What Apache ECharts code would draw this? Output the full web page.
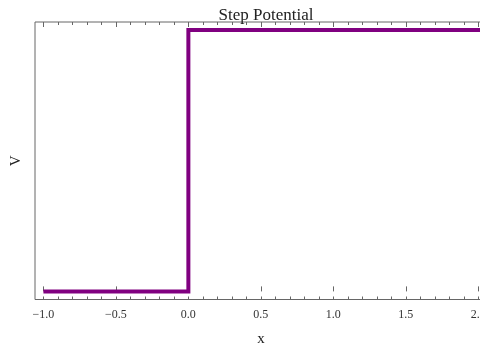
<!DOCTYPE html>
<html>
<head>
<meta charset="utf-8">
<script src="https://cdn.jsdelivr.net/npm/echarts@6/dist/echarts.min.js"></script>
<style>
  html, body { margin: 0; padding: 0; background: #fff; }
  #chart { width: 480px; height: 347px; }
</style>
</head>
<body>
<div id="chart"></div>
<script>
// step potential: V = 0 for x < 0, V = V0 for x > 0
const xs = [-1, 0, 0, 2.06]
const vs = [0, 0, 1, 1]
const majorTicks = [-1, -0.5, 0, 0.5, 1, 1.5, 2]
const minorTicks = [-1, -0.9, -0.8, -0.7, -0.6, -0.5, -0.4, -0.3, -0.2, -0.1, 0, 0.1, 0.2, 0.3, 0.4, 0.5,
  0.6, 0.7, 0.8, 0.9, 1, 1.1, 1.2, 1.3, 1.4, 1.5, 1.6, 1.7, 1.8, 1.9, 2]
const tickLabels = ['\u22121.0', '\u22120.5', '0.0', '0.5', '1.0', '1.5', '2.0']

const serif = '"Liberation Serif", "DejaVu Serif", serif'
const frameColor = '#666'
const xMin = -1.058
const xMax = 2.06

function xAxisDef(pos, ticks, len, withLabels) {
  return {
    type: 'value',
    position: pos,
    min: xMin,
    max: xMax,
    axisLine: { show: false },
    splitLine: { show: false },
    axisTick: {
      show: true,
      inside: true,
      length: len,
      customValues: ticks,
      lineStyle: { color: frameColor, width: 1 }
    },
    axisLabel: withLabels
      ? {
          show: true,
          customValues: majorTicks,
          margin: 9,
          fontFamily: serif,
          fontSize: 12,
          color: '#333',
          formatter: v => tickLabels[majorTicks.findIndex(t => Math.abs(t - v) < 1e-6)]
        }
      : { show: false }
  }
}

const bottomMajor = xAxisDef('bottom', majorTicks, 5, true)
bottomMajor.name = 'x'
bottomMajor.nameLocation = 'middle'
bottomMajor.nameGap = 32
bottomMajor.nameTextStyle = { fontFamily: serif, fontSize: 15, color: '#222' }

const option = {
  animation: false,
  backgroundColor: '#fff',
  title: {
    text: 'Step Potential',
    left: 261,
    textAlign: 'center',
    top: 2,
    textStyle: { fontFamily: serif, fontSize: 17, fontWeight: 'normal', color: '#222' }
  },
  grid: {
    left: 35, width: 452, top: 22, height: 277.5,
    outerBoundsMode: 'none',
    containLabel: false,
    show: true,
    borderColor: frameColor,
    borderWidth: 1,
    backgroundColor: 'transparent'
  },
  xAxis: [
    bottomMajor,
    xAxisDef('bottom', minorTicks, 3, false),
    xAxisDef('top', majorTicks, 5, false),
    xAxisDef('top', minorTicks, 3, false)
  ],
  yAxis: {
    type: 'value',
    min: -0.031,
    max: 1.031,
    name: 'V',
    nameLocation: 'middle',
    nameGap: 11,
    nameRotate: 90,
    nameTextStyle: { fontFamily: serif, fontSize: 15, color: '#222' },
    axisLine: { show: false },
    axisTick: { show: false },
    axisLabel: { show: false },
    splitLine: { show: false }
  },
  series: [{
    type: 'line',
    data: xs.map((x, i) => [x, vs[i]]),
    showSymbol: false,
    clip: false,
    lineStyle: { color: '#800080', width: 4, join: 'miter', cap: 'butt' }
  }]
}

const chart = echarts.init(document.getElementById('chart'), null, { renderer: 'canvas' })
chart.setOption(option)
</script>
</body>
</html>
